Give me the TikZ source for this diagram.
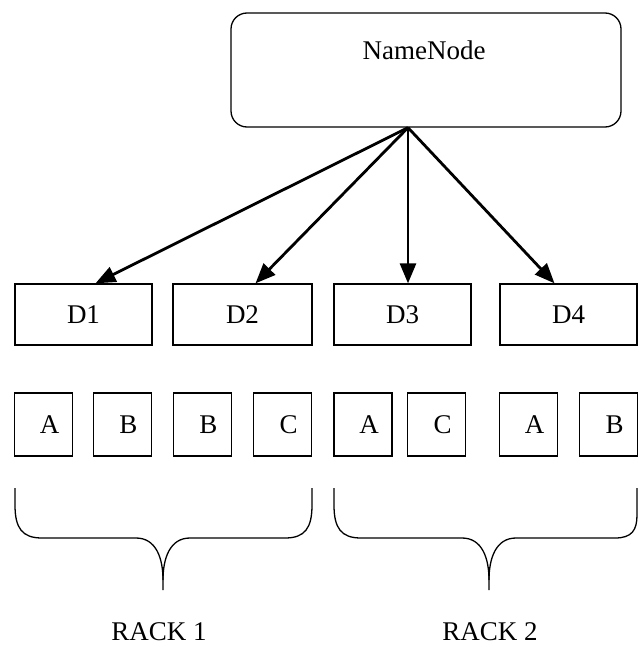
\documentclass[tikz,border=0pt]{standalone}
\usepackage{fontspec}
\setmainfont{Liberation Serif}
\usetikzlibrary{arrows.meta,calc}
\begin{document}
\begin{tikzpicture}[x=1pt,y=-1pt,
  txt/.style={inner sep=0pt,font=\fontsize{27}{32}\selectfont},
  namebox/.style={draw,line width=1.3pt,rounded corners=16pt,minimum width=390pt,minimum height=114pt},
  dbox/.style={draw,line width=1.3pt,minimum height=61pt,inner sep=0pt,font=\fontsize{27}{32}\selectfont},
  sbox/.style={draw,line width=1.3pt,minimum width=58pt,minimum height=63pt,inner sep=0pt},
  conn/.style={line width=2.8pt,-{Triangle[length=20pt,width=16pt]}},
  brace/.style={line width=1.3pt}]
\useasboundingbox (0,0) rectangle (638,647);
% NameNode
\node[namebox] (nn) at (426,70) {};
\node[txt] (nnt) at (424,50) {NameNode};
\coordinate (apex) at ($(nn.south)+(-18,0)$);
% DataNodes
\node[dbox,minimum width=137pt] (d1) at (83.5,314.5) {D1};
\node[dbox,minimum width=139pt] (d2) at (242.5,314.5) {D2};
\node[dbox,minimum width=137pt] (d3) at (402.5,314.5) {D3};
\node[dbox,minimum width=137pt] (d4) at (568.5,314.5) {D4};
% arrows
\draw[conn] (apex) -- ($(d1.north)+(12,0)$);
\draw[conn] (apex) -- ($(d2.north)+(13,0)$);
\draw[conn] (apex) -- ($(d3.north)+(5.5,0)$);
\draw[conn] (apex) -- ($(d4.north)+(-14,0)$);
% blocks
\node[sbox] (s1) at (43.5,424.5) {};
\node[sbox] (s2) at (122.5,424.5) {};
\node[sbox] (s3) at (202.5,424.5) {};
\node[sbox] (s4) at (282.5,424.5) {};
\node[sbox] (s5) at (363,424.5) {};
\node[sbox] (s6) at (436.5,424.5) {};
\node[sbox] (s7) at (528.5,424.5) {};
\node[sbox] (s8) at (608.5,424.5) {};
\node[txt] (t1) at ($(s1)+(6,0)$) {A};
\node[txt] (t2) at ($(s2)+(6,0)$) {B};
\node[txt] (t3) at ($(s3)+(6,0)$) {B};
\node[txt] (t4) at ($(s4)+(6,0)$) {C};
\node[txt] (t5) at ($(s5)+(6,0)$) {A};
\node[txt] (t6) at ($(s6)+(6,0)$) {C};
\node[txt] (t7) at ($(s7)+(6,0)$) {A};
\node[txt] (t8) at ($(s8)+(6,0)$) {B};
% braces
\draw[brace] (15,488) -- (15,505) .. controls (15,528) and (22,538) .. (42,538)
  -- (136,538) .. controls (156,538) and (163,558) .. (163,580) -- (163,590);
\draw[brace] (163,580) .. controls (163,558) and (170,538) .. (190,538)
  -- (285,538) .. controls (305,538) and (312,528) .. (312,505) -- (312,488);
\draw[brace] (334,488) -- (334,505) .. controls (334,528) and (341,538) .. (361,538)
  -- (462,538) .. controls (482,538) and (489,558) .. (489,580) -- (489,590);
\draw[brace] (489,580) .. controls (489,558) and (496,538) .. (516,538)
  -- (615,538) .. controls (632,538) and (637,530) .. (637,515) -- (637,488);
% labels
\node[txt] (r1) at (159,632) {RACK 1};
\node[txt] (r2) at (490,632) {RACK 2};
\end{tikzpicture}
\end{document}
